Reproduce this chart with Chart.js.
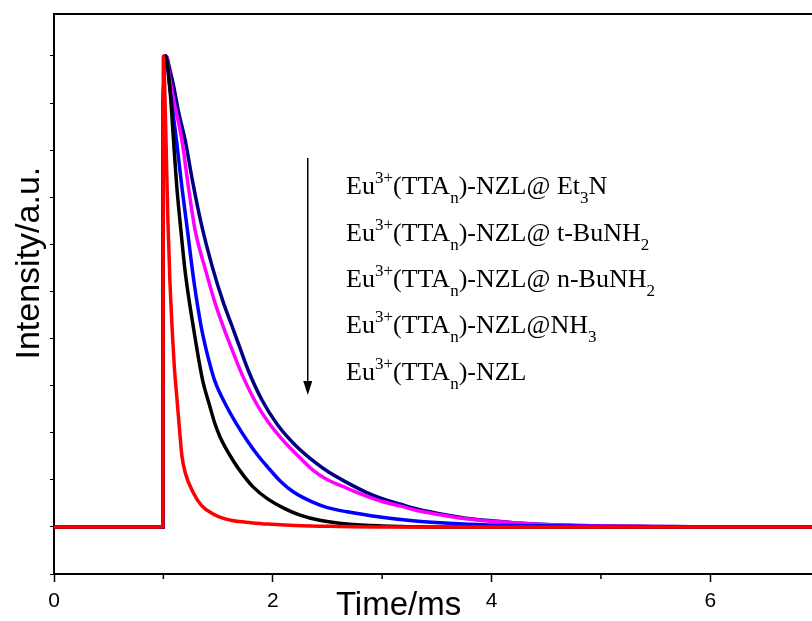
<!DOCTYPE html>
<html><head><meta charset="utf-8">
<script src="https://cdn.jsdelivr.net/npm/chart.js@4"></script>
<style>html,body{margin:0;padding:0;background:#fff;overflow:hidden}canvas{display:block}</style>
</head><body>
<canvas id="c" width="812" height="621"></canvas>
<script>
// ---- data (time in ms, normalised intensity) ----
const tNavy = [0, 0.995, 1.0, 1.025, 1.06, 1.09, 1.14, 1.2, 1.27, 1.35, 1.45, 1.55, 1.63, 1.7, 1.78, 1.9, 2.04, 2.2, 2.37, 2.5, 2.68, 2.85, 3.0, 3.17, 3.3, 3.5, 3.75, 4.0, 4.2, 4.5, 5.0, 5.5, 6.0, 6.93];
const iNavy = [0, 0, 0.9, 1.0, 0.97, 0.94, 0.88, 0.82, 0.73, 0.64, 0.55, 0.475, 0.425, 0.38, 0.33, 0.27, 0.218, 0.175, 0.14, 0.118, 0.094, 0.074, 0.06, 0.048, 0.039, 0.029, 0.019, 0.013, 0.009, 0.005, 0.002, 0.001, 0, 0];

const tMagenta = [0, 0.995, 1.0, 1.025, 1.06, 1.1, 1.17, 1.23, 1.29, 1.38, 1.48, 1.58, 1.65, 1.73, 1.85, 1.96, 2.1, 2.2, 2.37, 2.5, 2.68, 2.85, 3.0, 3.17, 3.3, 3.5, 3.75, 4.0, 4.2, 4.5, 5.0, 6.0, 6.93];
const iMagenta = [0, 0, 0.9, 1.0, 0.95, 0.9, 0.82, 0.72, 0.63, 0.55, 0.47, 0.405, 0.363, 0.318, 0.262, 0.222, 0.182, 0.158, 0.12, 0.1, 0.082, 0.066, 0.054, 0.044, 0.036, 0.027, 0.018, 0.012, 0.009, 0.005, 0.002, 0, 0];

const tBlue = [0, 0.995, 1.0, 1.02, 1.06, 1.12, 1.17, 1.22, 1.28, 1.35, 1.42, 1.47, 1.58, 1.66, 1.77, 1.87, 1.95, 2.07, 2.19, 2.37, 2.5, 2.68, 2.98, 3.28, 3.74, 4.2, 5.0, 6.0, 6.93];
const iBlue = [0, 0, 0.9, 1.0, 0.93, 0.82, 0.72, 0.63, 0.52, 0.42, 0.35, 0.31, 0.255, 0.222, 0.182, 0.15, 0.128, 0.097, 0.074, 0.052, 0.041, 0.032, 0.021, 0.013, 0.006, 0.003, 0.001, 0, 0];

const tBlack = [0, 0.995, 1.0, 1.02, 1.06, 1.09, 1.12, 1.16, 1.2, 1.27, 1.36, 1.42, 1.47, 1.52, 1.64, 1.73, 1.82, 1.95, 2.1, 2.25, 2.43, 2.68, 3.0, 3.5, 6.93];
const iBlack = [0, 0, 0.9, 1.0, 0.93, 0.83, 0.73, 0.63, 0.54, 0.43, 0.31, 0.26, 0.22, 0.19, 0.14, 0.11, 0.085, 0.06, 0.04, 0.025, 0.014, 0.006, 0.002, 0, 0];

const tRed = [0, 0.995, 1.0, 1.02, 1.04, 1.06, 1.08, 1.1, 1.125, 1.15, 1.17, 1.2, 1.27, 1.35, 1.45, 1.55, 1.64, 1.8, 1.95, 2.2, 2.6, 3.0, 4.0, 5.0, 6.0, 6.93];
const iRed = [0, 0, 1.0, 0.86, 0.66, 0.52, 0.42, 0.34, 0.27, 0.2, 0.15, 0.115, 0.074, 0.045, 0.028, 0.018, 0.013, 0.009, 0.006, 0.003, 0.001, 0, 0, 0, 0, 0];

const seriesLabels = [
  'Eu^{3+}(TTA_{n})-NZL@ Et_{3}N',
  'Eu^{3+}(TTA_{n})-NZL@ t-BuNH_{2}',
  'Eu^{3+}(TTA_{n})-NZL@ n-BuNH_{2}',
  'Eu^{3+}(TTA_{n})-NZL@NH_{3}',
  'Eu^{3+}(TTA_{n})-NZL'
];
const seriesColors = ['#000080', '#FF00FF', '#0000FF', '#000000', '#FF0000'];
const xMajorTicks = [0, 2, 4, 6];
const xMinorTicks = [1, 3, 5];
const yTicks = [-0.1, 0, 0.1, 0.2, 0.3, 0.4, 0.5, 0.6, 0.7, 0.8, 0.9, 1.0];
const xTitle = 'Time/ms';
const yTitle = 'Intensity/a.u.';

// ---- helpers ----
const pts = (t, v) => t.map((x, k) => ({x: x, y: v[k]}));
const plain = s => s.replace(/[\^_]\{([^}]*)\}/g, '$1');
function parseRich(s) {
  const out = []; const re = /([\^_])\{([^}]*)\}/g; let last = 0, m;
  while ((m = re.exec(s))) {
    if (m.index > last) out.push({t: s.slice(last, m.index), m: 0});
    out.push({t: m[2], m: m[1] === '^' ? 1 : -1});
    last = re.lastIndex;
  }
  if (last < s.length) out.push({t: s.slice(last), m: 0});
  return out;
}

const tArr = [tNavy, tMagenta, tBlue, tBlack, tRed];
const iArr = [iNavy, iMagenta, iBlue, iBlack, iRed];
// draw order: red on top, then black, blue, magenta, navy
const datasets = [4, 3, 2, 1, 0].map(k => ({
  label: plain(seriesLabels[k]),
  data: pts(tArr[k], iArr[k]),
  borderColor: seriesColors[k],
  backgroundColor: seriesColors[k],
  borderWidth: 3.5,
  pointRadius: 0,
  fill: false,
  cubicInterpolationMode: 'monotone'
}));

const SANS = '"Liberation Sans", Arial, sans-serif';
const SERIF = '"Liberation Serif", "Times New Roman", serif';

const overlay = {
  id: 'overlay',
  afterDraw(chart) {
    const {ctx, chartArea: a, scales: {x, y}} = chart;
    ctx.save();
    ctx.strokeStyle = '#000'; ctx.fillStyle = '#000';
    // top frame
    ctx.lineWidth = 2;
    ctx.beginPath(); ctx.moveTo(a.left - 1, a.top); ctx.lineTo(a.right, a.top); ctx.stroke();
    // minor x ticks
    ctx.lineWidth = 1.5;
    xMinorTicks.forEach(v => {
      const px = x.getPixelForValue(v);
      ctx.beginPath(); ctx.moveTo(px, a.bottom); ctx.lineTo(px, a.bottom + 5); ctx.stroke();
    });
    // axis titles
    ctx.font = '33px ' + SANS;
    ctx.textAlign = 'center'; ctx.textBaseline = 'alphabetic';
    ctx.fillText(xTitle, x.getPixelForValue(3.15), a.bottom + 41);
    ctx.save();
    ctx.translate(a.left - 15, y.getPixelForValue(0.56));
    ctx.rotate(-Math.PI / 2);
    ctx.font = '34px ' + SANS;
    ctx.fillText(yTitle, 0, 0);
    ctx.restore();
    // arrow
    const ax = x.getPixelForValue(2.32);
    const ay0 = y.getPixelForValue(0.783), ay1 = y.getPixelForValue(0.28);
    ctx.lineWidth = 1.5;
    ctx.beginPath(); ctx.moveTo(ax, ay0); ctx.lineTo(ax, ay1 - 10); ctx.stroke();
    ctx.beginPath(); ctx.moveTo(ax - 4.5, ay1 - 14); ctx.lineTo(ax + 4.5, ay1 - 14); ctx.lineTo(ax, ay1); ctx.closePath(); ctx.fill();
    // legend text
    ctx.textAlign = 'left';
    const lx = x.getPixelForValue(2.67);
    const ly0 = y.getPixelForValue(0.706);
    seriesLabels.forEach((s, i) => {
      let cx = lx; const by = ly0 + i * 46.3;
      parseRich(s).forEach(seg => {
        if (seg.m === 0) { ctx.font = '26px ' + SERIF; ctx.fillText(seg.t, cx, by); }
        else if (seg.m === 1) { ctx.font = '17px ' + SERIF; ctx.fillText(seg.t, cx, by - 11); }
        else { ctx.font = '17px ' + SERIF; ctx.fillText(seg.t, cx, by + 9); }
        cx += ctx.measureText(seg.t).width;
      });
    });
    ctx.restore();
  }
};

new Chart(document.getElementById('c'), {
  type: 'line',
  data: {datasets: datasets},
  options: {
    responsive: false,
    animation: false,
    events: [],
    layout: {padding: {left: 50, top: 14, right: 0, bottom: 0}},
    plugins: {legend: {display: false}, tooltip: {enabled: false}, title: {display: false}},
    scales: {
      x: {
        type: 'linear', min: 0, max: 6.93,
        afterBuildTicks: s => { s.ticks = xMajorTicks.map(v => ({value: v})); },
        ticks: {color: '#000', font: {family: SANS, size: 21, lineHeight: 1}, padding: 9, maxRotation: 0, autoSkip: false, callback: v => String(v)},
        grid: {display: true, drawOnChartArea: false, drawTicks: true, tickLength: 8, tickColor: '#000', tickWidth: 1.5},
        border: {display: true, color: '#000', width: 2}
      },
      y: {
        type: 'linear', min: -0.1, max: 1.089,
        afterBuildTicks: s => { s.ticks = yTicks.map(v => ({value: v})); },
        ticks: {display: false},
        grid: {display: true, drawOnChartArea: false, drawTicks: true, tickLength: 4, tickColor: '#000', tickWidth: 1},
        border: {display: true, color: '#000', width: 2}
      }
    }
  },
  plugins: [overlay]
});
</script>
</body></html>
